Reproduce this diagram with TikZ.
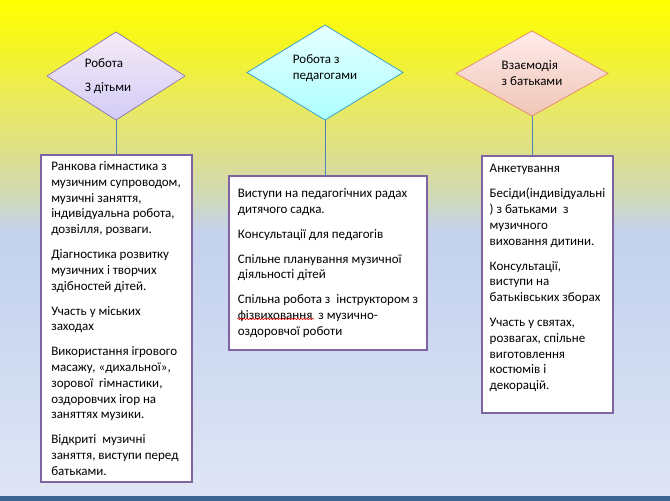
\documentclass[tikz,border=0pt]{standalone}
\usepackage{fontspec}
\setmainfont{Carlito}
\usepackage{xcolor}
\usepackage{tikz}
\usetikzlibrary{shapes.geometric, positioning, decorations.pathmorphing}

\definecolor{boxline}{HTML}{8064A2}
\definecolor{linkline}{HTML}{4F81BD}
\definecolor{stripblue}{HTML}{3F6595}
\definecolor{bgA}{HTML}{DFE5F4}
\definecolor{bgB}{HTML}{D4DEF2}
\definecolor{bgC}{HTML}{C9D6F0}
\definecolor{bgD}{HTML}{C3D1EC}
\definecolor{bgE}{HTML}{CFD9BC}
\definecolor{bgF}{HTML}{DEE088}
\definecolor{bgG}{HTML}{EAEA60}
\definecolor{bgH}{HTML}{F4F428}
\definecolor{bgI}{HTML}{FFFF00}

\pgfdeclareverticalshading{pagebg}{100bp}{color(0bp)=(bgA); color(25bp)=(bgA);
  color(34.58bp)=(bgB); color(44.66bp)=(bgC); color(51.71bp)=(bgD);
  color(54.74bp)=(bgE); color(59.78bp)=(bgF); color(64.82bp)=(bgG);
  color(69.86bp)=(bgH); color(75bp)=(bgI); color(100bp)=(bgI)}

\begin{document}
\begin{tikzpicture}[
        x=1pt, y=-1pt,
        rhomb/.style={diamond, shape aspect=1.6, draw, line width=0.7pt, inner sep=0pt,
                      outer sep=0pt, align=left, font=\fontsize{13}{16}\selectfont},
        textbox/.style={rectangle, draw=boxline, line width=2pt, fill=white,
                        align=left, inner xsep=0pt, inner ysep=-6pt, outer sep=0pt,
                        font=\fontsize{13}{15.75}\selectfont},
        link/.style={draw=linkline, line width=0.7pt},
    ]
        \useasboundingbox (0,0) rectangle (670,501);
        \shade[shading=pagebg] (0,0) rectangle (670,496);
        \fill[stripblue] (0,496) rectangle (670,501);

        \node[rhomb, draw=boxline!90, top color=violet!8, bottom color=violet!28!blue!20,
              minimum width=138pt, minimum height=88pt] (d1) at (116,76)
              {Робота\hspace*{16pt}\\[8pt] З дітьми\hspace*{16pt}};
        \node[rhomb, draw=cyan!60!teal, top color=cyan!10, bottom color=cyan!32,
              minimum width=156pt, minimum height=95pt] (d2) at (325,72.5)
              {Робота з\\педагогами\\[-6pt]\mbox{}};
        \node[rhomb, draw=red!35!brown!70, top color=red!8, bottom color=red!28!brown!35,
              minimum width=152pt, minimum height=85pt] (d3) at (532,73.5)
              {Взаємодія\\з батьками};

        \node[textbox, minimum width=151pt, minimum height=327pt, below=35pt of d1] (b1)
              {Ранкова гімнастика з\\музичним супроводом,\\музичні заняття,\\
               індивідуальна робота,\\дозвілля, розваги.\\[9.25pt]
               Діагностика розвитку\\музичних і творчих\\здібностей дітей.\\[9.25pt]
               Участь у міських\\заходах\\[9.25pt]
               Використання ігрового\\масажу, «дихальної»,\\зорової~ гімнастики,\\
               оздоровчих ігор на\\заняттях музики.\\[9.25pt]
               Відкриті~ музичні\\заняття, виступи перед\\батьками.};
        \node[textbox, minimum width=198pt, minimum height=174pt, below=56pt of d2, xshift=3pt] (b2)
              {Виступи на педагогічних радах\\дитячого садка.\\[9.25pt]
               Консультації для педагогів\\[9.25pt]
               Спільне планування музичної\\діяльності дітей\\[9.25pt]
               Спільна робота з~ інструктором з\\фізвиховання~ з музично-\\
               оздоровчої роботи};
        \node[textbox, minimum width=131pt, minimum height=257pt, below=40pt of d3, xshift=15.5pt] (b3)
              {Анкетування\\[9.25pt]
               Бесіди(індивідуальні\\) з батьками~ з\\музичного\\виховання дитини.\\[9.25pt]
               Консультації,\\виступи на\\батьківських зборах\\[9.25pt]
               Участь у святах,\\розвагах, спільне\\виготовлення\\костюмів і\\декорацій.\\[-1pt]\mbox{}};

        \draw[link] (d1.south) -- (d1.south |- b1.north);
        \draw[link] (d2.south) -- (d2.south |- b2.north);
        \draw[link] (d3.south) -- (d3.south |- b3.north);

        \draw[red, line width=0.5pt, decorate, decoration={snake, amplitude=0.7pt, segment length=3pt}]
            (237,319) -- (314,319);
    \end{tikzpicture}
\end{document}
